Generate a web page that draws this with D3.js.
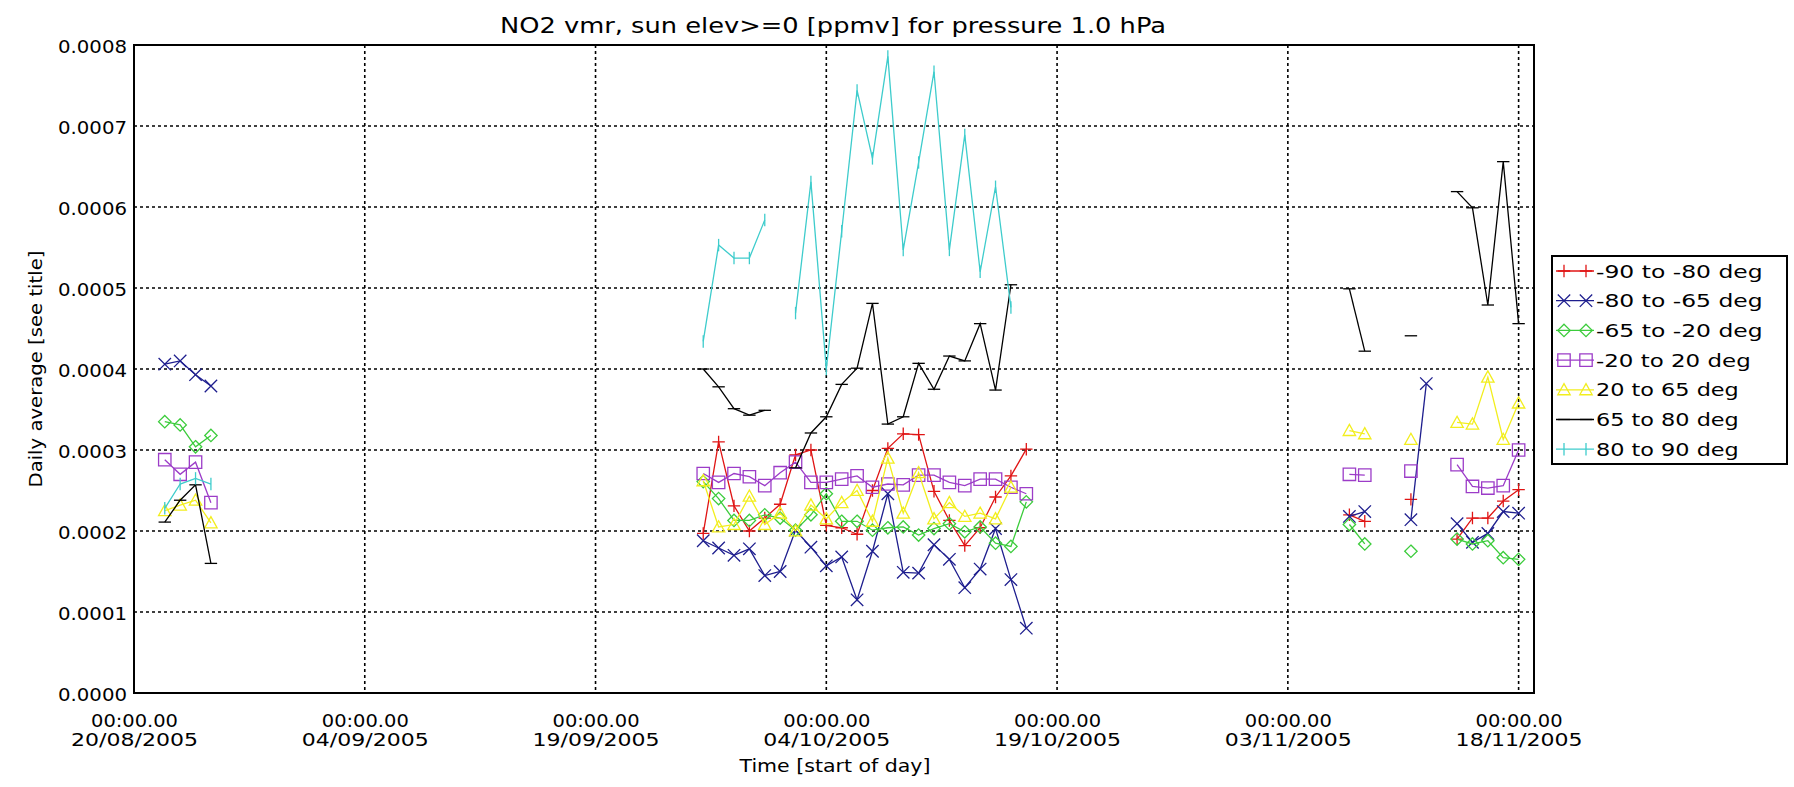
<!DOCTYPE html>
<html><head><meta charset="utf-8">
<script src="https://cdn.jsdelivr.net/npm/d3@7"></script>
<style>body{margin:0;background:#fff}svg{display:block}</style>
</head><body>
<svg id="chart" width="1794" height="787"></svg>
<script>
// ---------- DATA ----------
const titleText = "NO2 vmr, sun elev>=0 [ppmv] for pressure 1.0 hPa";
const xAxisTitle = "Time [start of day]";
const yAxisTitle = "Daily average [see title]";
const startDate = "2005-08-20";
const endDate = "2005-11-19";
const xTickDates = ["2005-08-20","2005-09-04","2005-09-19","2005-10-04","2005-10-19","2005-11-03","2005-11-18"];
const xTickTime = "00:00.00";
const yTickValues = [0,0.0001,0.0002,0.0003,0.0004,0.0005,0.0006,0.0007,0.0008];
// day offsets from startDate
const dayOffsets = [2,3,4,5,
  37,38,39,40,41,42,43,44,45,46,47,48,49,50,51,52,53,54,55,56,57,58,
  79,80,81,82,83,84,85,86,87,88,89,90];
const seriesNames = ["-90 to -80 deg","-80 to -65 deg","-65 to -20 deg","-20 to 20 deg","20 to 65 deg","65 to 80 deg","80 to 90 deg"];
const lat90to80 = [null,null,null,null,
  0.000197,0.00031,0.000231,0.0002,0.000216,0.000233,0.000294,0.0003,0.000207,0.000204,0.000196,0.00025,0.000302,0.00032,0.000319,0.000249,0.000213,0.000182,0.000204,0.000242,0.000268,0.000301,
  0.00022,0.000212,null,null,0.000239,null,null,0.00019,0.000216,0.000216,0.000237,0.000251];
const lat80to65 = [0.000406,0.00041,0.000393,0.000379,
  0.000188,0.000179,0.00017,0.000178,0.000145,0.00015,0.000201,0.00018,0.000157,0.000168,0.000115,0.000175,0.000246,0.000149,0.000148,0.000183,0.000165,0.00013,0.000153,0.000203,0.00014,0.00008,
  0.000218,0.000224,null,null,0.000214,0.000382,null,0.000209,0.000186,0.000197,0.000224,0.000222];
const lat65to20 = [0.000335,0.000331,0.000304,0.000318,
  0.000261,0.00024,0.000213,0.000213,0.00022,0.000216,0.000201,0.00022,0.000246,0.000212,0.000212,0.000201,0.000204,0.000205,0.000195,0.000203,0.000209,0.000199,0.000205,0.000185,0.000181,0.000236,
  0.000208,0.000184,null,null,0.000175,null,null,0.00019,0.000184,0.000188,0.000167,0.000165];
const lat20to20 = [0.000288,0.00027,0.000285,0.000235,
  0.000271,0.00026,0.000271,0.000267,0.000256,0.000272,0.000285,0.00026,0.00026,0.000264,0.000268,0.000254,0.000258,0.000257,0.000269,0.000269,0.00026,0.000256,0.000264,0.000264,0.000254,0.000246,
  0.00027,0.000269,null,null,0.000274,null,null,0.000282,0.000255,0.000253,0.000256,0.0003];
const lat20to65 = [0.000225,0.000232,0.000238,0.00021,
  0.000262,0.000205,0.000208,0.000243,0.000208,0.000222,0.0002,0.000232,0.000215,0.000235,0.00025,0.000212,0.00029,0.000222,0.000272,0.000215,0.000235,0.000218,0.000222,0.000215,0.000254,null,
  0.000324,0.00032,null,null,0.000313,null,null,0.000334,0.000332,0.00039,0.000313,0.000358];
const lat65to80 = [0.000211,0.000238,0.000257,0.00016,
  0.0004,0.000378,0.000351,0.000343,0.000349,null,0.000278,0.000321,0.000341,0.000381,0.000401,0.000481,0.000332,0.000341,0.000407,0.000375,0.000416,0.00041,0.000456,0.000374,0.000504,null,
  0.000499,0.000422,null,null,0.000441,null,null,0.000619,0.000599,0.000479,0.000656,0.000456];
const lat80to90 = [0.000228,0.000258,0.000265,0.000258,
  0.000434,0.000553,0.000537,0.000537,0.000584,null,0.000469,0.000631,0.0004,0.00057,0.000744,0.00066,0.000786,0.000547,0.000655,0.000767,0.000547,0.000689,0.00052,0.000625,0.000476,null,
  null,null,null,null,null,null,null,null,null,null,null,null];
const seriesValues = [lat90to80, lat80to65, lat65to20, lat20to20, lat20to65, lat65to80, lat80to90];

// ---------- STYLE ----------
const seriesColors = ["#e01414","#1e1e8e","#3ccc3c","#9c3cc8","#f2ee1e","#000000","#3ecccc"];
const seriesSymbols = ["plus","cross","diamond","square","triangle","hbar","vbar"];
const W = 1794, H = 787;
const plot = {left:134, right:1534, top:45, bottom:693};
const fontFam = "'DejaVu Sans', 'Liberation Sans', sans-serif";

const svg = d3.select("#chart");
svg.append("rect").attr("width",W).attr("height",H).attr("fill","#fff");

const parse = d3.utcParse("%Y-%m-%d");
const t0 = parse(startDate);
const x = d3.scaleUtc().domain([t0, parse(endDate)]).range([plot.left, plot.right]);
const y = d3.scaleLinear().domain([0, 0.0008]).range([plot.bottom, plot.top]);

// grid
const grid = svg.append("g").attr("stroke","#000").attr("stroke-width",1.6).attr("stroke-dasharray","3,3");
grid.selectAll("line.h").data(yTickValues.filter(v => v > 0 && v < 0.0008)).join("line")
  .attr("x1",plot.left).attr("x2",plot.right).attr("y1",d=>y(d)).attr("y2",d=>y(d));
grid.selectAll("line.v").data(xTickDates.map(parse).filter(d => x(d) > plot.left + 1)).join("line")
  .attr("x1",d=>x(d)).attr("x2",d=>x(d)).attr("y1",plot.top).attr("y2",plot.bottom);

// y axis
const yAx = svg.append("g").attr("transform",`translate(${plot.left},0)`)
  .call(d3.axisLeft(y).tickValues(yTickValues).tickSize(0).tickPadding(7).tickFormat(d3.format(".4f")));
yAx.select(".domain").remove();
yAx.selectAll("text").attr("font-family",fontFam).attr("font-size",18).attr("fill","#000")
  .attr("dy",null).attr("y",7).attr("textLength",69).attr("lengthAdjust","spacingAndGlyphs");

// x axis
const xAx = svg.append("g").attr("transform",`translate(0,${plot.bottom})`)
  .call(d3.axisBottom(x).tickValues(xTickDates.map(parse)).tickSize(0).tickFormat(() => ""));
xAx.select(".domain").remove();
xAx.selectAll(".tick text").remove();
const fmtDate = d3.utcFormat("%d/%m/%Y");
xAx.selectAll(".tick").each(function(d){
  const g = d3.select(this);
  g.append("text").attr("y",34).attr("text-anchor","middle").attr("font-family",fontFam).attr("font-size",18)
    .attr("fill","#000").attr("textLength",87).attr("lengthAdjust","spacingAndGlyphs").text(xTickTime);
  g.append("text").attr("y",53).attr("text-anchor","middle").attr("font-family",fontFam).attr("font-size",18)
    .attr("fill","#000").attr("textLength",127).attr("lengthAdjust","spacingAndGlyphs").text(fmtDate(d));
});

// titles
svg.append("text").attr("x",833).attr("y",33).attr("text-anchor","middle").attr("font-family",fontFam).attr("fill","#000")
  .attr("font-size",20.5).attr("textLength",666).attr("lengthAdjust","spacingAndGlyphs").text(titleText);
svg.append("text").attr("x",835).attr("y",772).attr("text-anchor","middle").attr("font-family",fontFam).attr("fill","#000")
  .attr("font-size",18).attr("textLength",191).attr("lengthAdjust","spacingAndGlyphs").text(xAxisTitle);
svg.append("text").attr("transform",`translate(42,${(plot.top+plot.bottom)/2}) rotate(-90)`).attr("text-anchor","middle").attr("fill","#000")
  .attr("font-family",fontFam).attr("font-size",18).attr("textLength",237).attr("lengthAdjust","spacingAndGlyphs").text(yAxisTitle);

// marker path
function markerPath(sym, cx, cy, s){
  switch(sym){
    case "plus": return `M${cx-s},${cy}H${cx+s}M${cx},${cy-s}V${cy+s}`;
    case "cross": return `M${cx-s},${cy-s}L${cx+s},${cy+s}M${cx-s},${cy+s}L${cx+s},${cy-s}`;
    case "diamond": return `M${cx},${cy-s}L${cx+s},${cy}L${cx},${cy+s}L${cx-s},${cy}Z`;
    case "square": return `M${cx-s},${cy-s}H${cx+s}V${cy+s}H${cx-s}Z`;
    case "triangle": return `M${cx-s},${cy+s*0.8}L${cx+s},${cy+s*0.8}L${cx},${cy-s}Z`;
    case "hbar": return `M${cx-s},${cy}H${cx+s}`;
    case "vbar": return `M${cx},${cy-s}V${cy+s}`;
  }
}

// series
const plotArea = svg.append("g");
const lineGen = d3.line().x(p => x(p.date)).y(p => y(p.v));
seriesValues.forEach((vals, si) => {
  const pts = dayOffsets.map((d,i) => ({day:d, date:d3.utcDay.offset(t0,d), v:vals[i]}));
  const segs = []; let cur = [];
  pts.forEach((p,i) => {
    const brk = p.v == null || (i > 0 && p.day - pts[i-1].day > 1);
    if (brk && cur.length){ segs.push(cur); cur = []; }
    if (p.v != null) cur.push(p);
  });
  if (cur.length) segs.push(cur);
  const g = plotArea.append("g").attr("stroke",seriesColors[si]).attr("fill","none").attr("stroke-width",1.3);
  g.selectAll("path.l").data(segs.filter(s => s.length > 1)).join("path").attr("d",lineGen);
  g.selectAll("path.m").data(pts.filter(p => p.v != null)).join("path")
    .attr("d",p => markerPath(seriesSymbols[si], x(p.date), y(p.v), 6.2));
});

// frame
svg.append("rect").attr("x",plot.left).attr("y",plot.top).attr("width",plot.right-plot.left).attr("height",plot.bottom-plot.top)
  .attr("fill","none").attr("stroke","#000").attr("stroke-width",2);

// legend
const leg = svg.append("g");
leg.append("rect").attr("x",1552).attr("y",256).attr("width",235).attr("height",208).attr("fill","#fff").attr("stroke","#000").attr("stroke-width",2);
seriesNames.forEach((name, i) => {
  const cy = 271 + i*29.7;
  const g = leg.append("g").attr("stroke",seriesColors[i]).attr("fill","none").attr("stroke-width",1.3);
  g.append("line").attr("x1",1556).attr("x2",1594).attr("y1",cy).attr("y2",cy);
  [1564,1586].forEach(mx => g.append("path").attr("d",markerPath(seriesSymbols[i], mx, cy, 6.2)));
  leg.append("text").attr("x",1596).attr("y",cy+6.5).attr("font-family",fontFam).attr("font-size",17.5).attr("fill","#000")
    .attr("textLength",name.length*11.9).attr("lengthAdjust","spacingAndGlyphs").text(name);
});
</script>
</body></html>
